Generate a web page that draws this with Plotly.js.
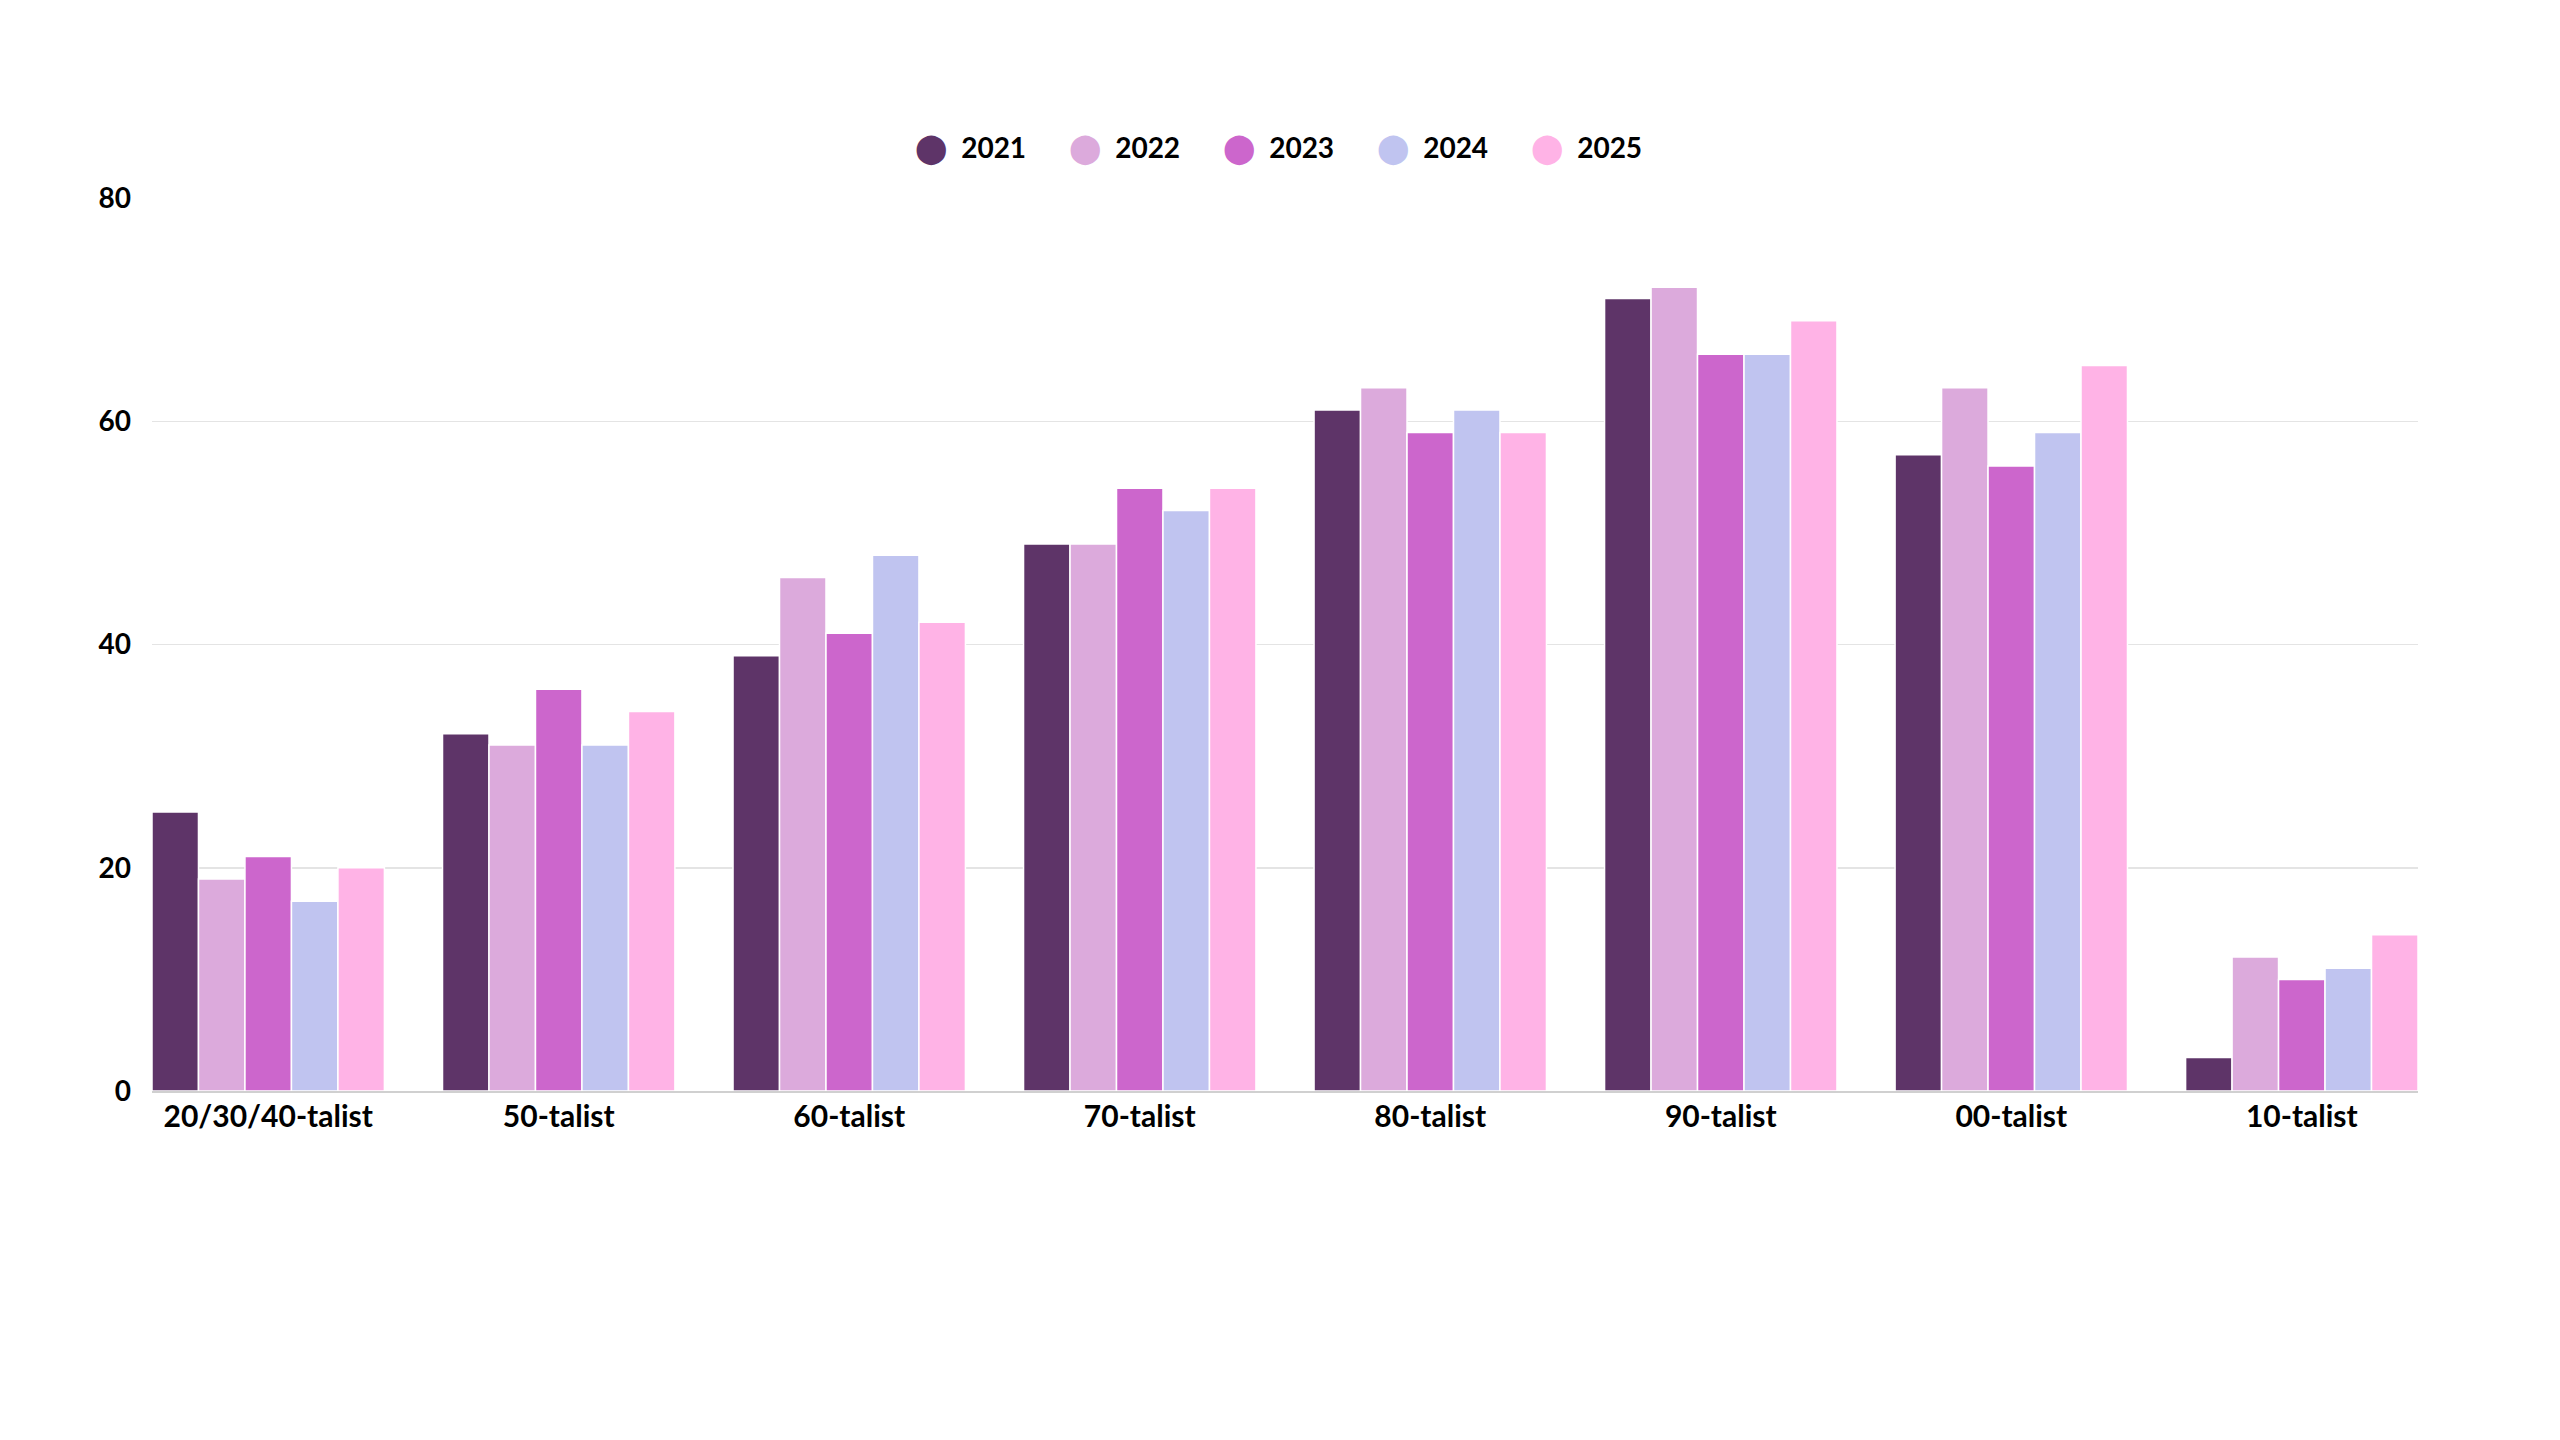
<!DOCTYPE html>
<html>
<head>
<meta charset="utf-8">
<script src="https://cdn.plot.ly/plotly-3.0.1.min.js"></script>
<style>html,body{margin:0;padding:0;background:#fff;}#chart{width:2560px;height:1440px;}</style>
</head>
<body>
<div id="chart"></div>
<script>
const categories = ["20/30/40-talist", "50-talist", "60-talist", "70-talist", "80-talist", "90-talist", "00-talist", "10-talist"];
const years = ["2021", "2022", "2023", "2024", "2025"];
const v2021 = [25, 32, 39, 49, 61, 71, 57, 3];
const v2022 = [19, 31, 46, 49, 63, 72, 63, 12];
const v2023 = [21, 36, 41, 54, 59, 66, 56, 10];
const v2024 = [17, 31, 48, 52, 61, 66, 59, 11];
const v2025 = [20, 34, 42, 54, 59, 69, 65, 14];
const yTicks = [0, 20, 40, 60, 80];
const colors = ["#5e3468", "#dcaadc", "#cc66cc", "#c0c4f0", "#ffb3e6"];

const series = [v2021, v2022, v2023, v2024, v2025];
const FONT = "Lato, 'Open Sans', sans-serif";

const traces = [];
series.forEach((vals, i) => {
  traces.push({
    type: "bar",
    name: years[i],
    x: categories,
    y: vals,
    marker: {color: colors[i], line: {color: "#ffffff", width: 1.5}},
    showlegend: false,
    legendgroup: years[i],
    hoverinfo: "x+y+name"
  });
});
years.forEach((yr, i) => {
  traces.push({
    type: "scatter",
    mode: "markers",
    name: '<span style="color:' + colors[i] + ';font-family:\'DejaVu Sans\';font-size:29px">⬤</span>  ' + yr,
    x: [null],
    y: [null],
    marker: {color: "rgba(0,0,0,0)", size: 0, opacity: 0},
    legendgroup: yr,
    showlegend: true
  });
});

const layout = {
  width: 2560,
  height: 1440,
  paper_bgcolor: "#ffffff",
  plot_bgcolor: "#ffffff",
  margin: {l: 152, r: 142, t: 198, b: 349},
  barmode: "group",
  bargap: 0.2,
  bargroupgap: 0,
  font: {family: FONT, color: "#000000", size: 24},
  showlegend: true,
  legend: {
    orientation: "h",
    x: 0.489, xanchor: "center",
    y: 1.057, yanchor: "middle",
    font: {family: FONT, size: 28, color: "#000000", weight: "bold"},
    itemwidth: 30,
    entrywidth: 109,
    tracegroupgap: 0
  },
  xaxis: {
    type: "category",
    range: [-0.4, 7.4],
    showgrid: false,
    showline: true,
    linecolor: "#d0d0d0",
    linewidth: 2,
    ticks: "",
    tickfont: {family: FONT, size: 30, color: "#000000", weight: "bold"},
    ticklabelstandoff: -2
  },
  yaxis: {
    range: [0, 80],
    tickvals: yTicks,
    ticktext: yTicks.map(String),
    showgrid: true,
    gridcolor: "#e4e4e4",
    gridwidth: 1.5,
    zeroline: false,
    showline: false,
    ticks: "",
    ticklabelstandoff: 20,
    tickfont: {family: FONT, size: 28, color: "#000000", weight: "bold"}
  }
};

Plotly.newPlot("chart", traces, layout, {displayModeBar: false, staticPlot: true});
</script>
</body>
</html>
